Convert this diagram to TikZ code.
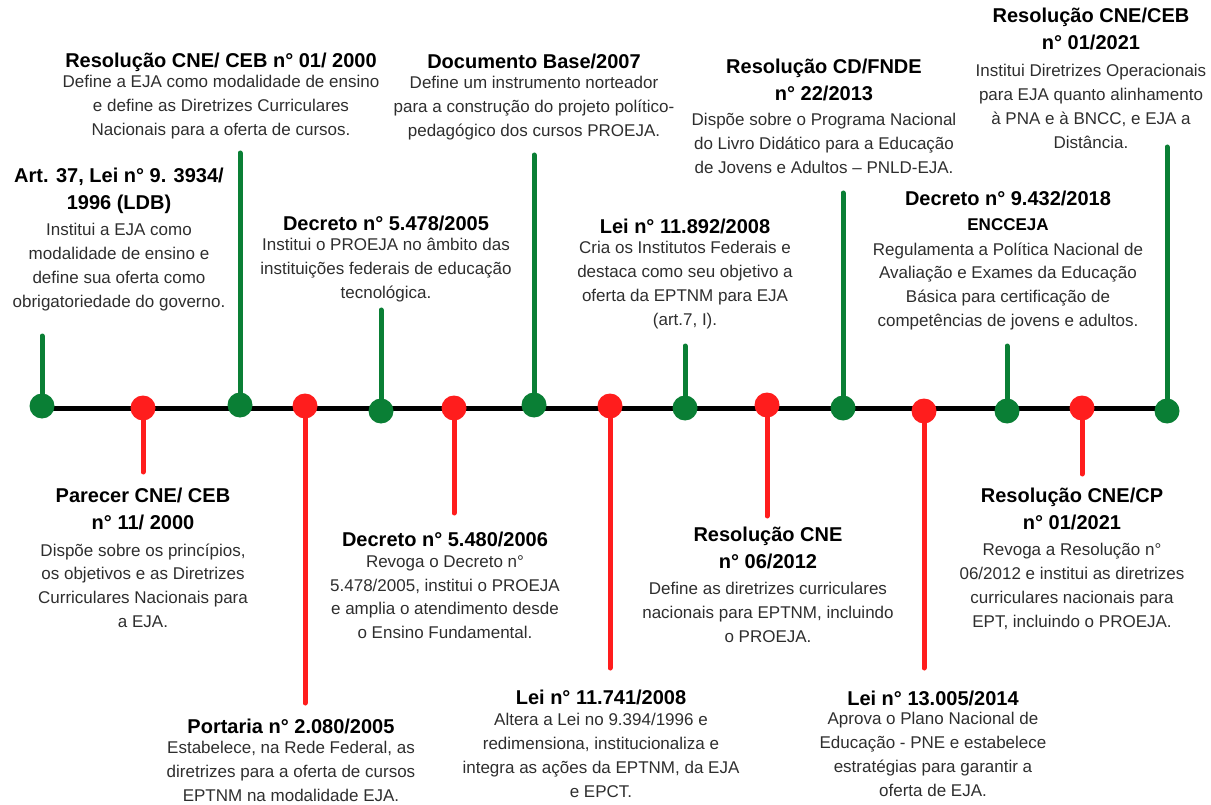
\documentclass[tikz,border=0pt]{standalone}
\usepackage{fontspec}
\setmainfont{Liberation Sans}
\definecolor{tlgreen}{HTML}{0A7F35}
\definecolor{tlred}{HTML}{FF1D1D}
\definecolor{bodygray}{HTML}{2E2E2E}
\begin{document}
\begin{tikzpicture}[x=1pt,y=-1pt,
  ttl/.style={align=center, inner sep=0pt, anchor=north, yshift=19.25pt,
    font=\fontsize{20}{27.5}\selectfont\bfseries, text=black, execute at begin node=\strut},
  bdy/.style={align=center, inner sep=0pt, anchor=north, yshift=16.59pt,
    font=\fontsize{17}{23.7}\selectfont, text=bodygray, execute at begin node=\strut},
  dotg/.style={circle, fill=tlgreen, minimum size=25pt, inner sep=0pt},
  dotr/.style={circle, fill=tlred, minimum size=25pt, inner sep=0pt},
  stemg/.style={draw=tlgreen, line width=5pt, line cap=round},
  stemr/.style={draw=tlred, line width=5pt, line cap=round},
  axis/.style={draw=black, line width=5pt}]
\useasboundingbox (0,0) rectangle (1211,805);

% dot positions
\coordinate (p1) at (42,406);
\coordinate (p2) at (143,408);
\coordinate (p3) at (240,405);
\coordinate (p4) at (305,406);
\coordinate (p5) at (381,411);
\coordinate (p6) at (454,408);
\coordinate (p7) at (534,405);
\coordinate (p8) at (610,406);
\coordinate (p9) at (685,408);
\coordinate (p10) at (767,405);
\coordinate (p11) at (843,408);
\coordinate (p12) at (924,411);
\coordinate (p13) at (1007,411);
\coordinate (p14) at (1082,408);
\coordinate (p15) at (1167,411);

% stem ends
\coordinate (s1) at (42,336);
\coordinate (s2) at (143,472);
\coordinate (s3) at (240,153);
\coordinate (s4) at (305,703);
\coordinate (s5) at (381,310);
\coordinate (s6) at (454,513);
\coordinate (s7) at (534,155);
\coordinate (s8) at (610,668);
\coordinate (s9) at (685,346);
\coordinate (s10) at (767,516);
\coordinate (s11) at (843,193);
\coordinate (s12) at (924,668);
\coordinate (s13) at (1007,346);
\coordinate (s14) at (1082,474);
\coordinate (s15) at (1167,147);

% axis
\coordinate (axL) at (42,408);
\coordinate (axR) at (1167,408);
\draw[axis] (axL) -- (axR);

% stems
\foreach \i in {1,3,5,7,9,11,13,15} {\draw[stemg] (p\i) -- (s\i);}
\foreach \i in {2,4,6,8,10,12,14} {\draw[stemr] (p\i) -- (s\i);}

% dots
\foreach \i in {1,3,5,7,9,11,13,15} {\node[dotg] (d\i) at (p\i) {};}
\foreach \i in {2,4,6,8,10,12,14} {\node[dotr] (d\i) at (p\i) {};}

% ---- top labels ----
\node[ttl] (tA) at (119,187) {Art. 37, Lei n° 9. 3934/\\1996 (LDB)};
\node[bdy] (bA) at (119,240) {Institui a EJA como\\modalidade de ensino e\\define sua oferta como\\obrigatoriedade do governo.};

\node[ttl] (tB) at (221,67.5) {Resolução CNE/ CEB n° 01/ 2000};
\node[bdy] (bB) at (221,92) {Define a EJA como modalidade de ensino\\e define as Diretrizes Curriculares\\Nacionais para a oferta de cursos.};

\node[ttl] (tC) at (386,230) {Decreto n° 5.478/2005};
\node[bdy] (bC) at (386,255) {Institui o PROEJA no âmbito das\\instituições federais de educação\\tecnológica.};

\node[ttl] (tD) at (534,68) {Documento Base/2007};
\node[bdy] (bD) at (534,93) {Define um instrumento norteador\\para a construção do projeto político-\\pedagógico dos cursos PROEJA.};

\node[ttl] (tE) at (685,233) {Lei n° 11.892/2008};
\node[bdy] (bE) at (685,258) {Cria os Institutos Federais e\\destaca como seu objetivo a\\oferta da EPTNM para EJA\\(art.7, I).};

\node[ttl] (tF) at (824,78) {Resolução CD/FNDE\\n° 22/2013};
\node[bdy] (bF) at (824,130) {Dispõe sobre o Programa Nacional\\do Livro Didático para a Educação\\de Jovens e Adultos – PNLD-EJA.};

\node[ttl] (tG) at (1008,210) {Decreto n° 9.432/2018\\[-2.5pt]{\fontsize{17}{20}\selectfont ENCCEJA}};
\node[bdy] (bG) at (1008,259) {Regulamenta a Política Nacional de\\Avaliação e Exames da Educação\\Básica para certificação de\\competências de jovens e adultos.};

\node[ttl] (tH) at (1091,27) {Resolução CNE/CEB\\n° 01/2021};
\node[bdy] (bH) at (1091,81) {Institui Diretrizes Operacionais\\para EJA quanto alinhamento\\à PNA e à BNCC, e EJA a\\Distância.};

% ---- bottom labels ----
\node[ttl] (tI) at (143,507) {Parecer CNE/ CEB\\n° 11/ 2000};
\node[bdy] (bI) at (143,560) {Dispõe sobre os princípios,\\os objetivos e as Diretrizes\\Curriculares Nacionais para\\a EJA.};

\node[ttl] (tJ) at (291,733) {Portaria n° 2.080/2005};
\node[bdy] (bJ) at (291,758) {Estabelece, na Rede Federal, as\\diretrizes para a oferta de cursos\\EPTNM na modalidade EJA.};

\node[ttl] (tK) at (445,546) {Decreto n° 5.480/2006};
\node[bdy] (bK) at (445,572) {Revoga o Decreto n°\\5.478/2005, institui o PROEJA\\e amplia o atendimento desde\\o Ensino Fundamental.};

\node[ttl] (tL) at (601,704) {Lei n° 11.741/2008};
\node[bdy] (bL) at (601,730) {Altera a Lei no 9.394/1996 e\\redimensiona, institucionaliza e\\integra as ações da EPTNM, da EJA\\e EPCT.};

\node[ttl] (tM) at (768,546) {Resolução CNE\\n° 06/2012};
\node[bdy] (bM) at (768,599) {Define as diretrizes curriculares\\nacionais para EPTNM, incluindo\\o PROEJA.};

\node[ttl] (tN) at (933,705) {Lei n° 13.005/2014};
\node[bdy] (bN) at (933,729) {Aprova o Plano Nacional de\\Educação - PNE e estabelece\\estratégias para garantir a\\oferta de EJA.};

\node[ttl] (tO) at (1072,507) {Resolução CNE/CP\\n° 01/2021};
\node[bdy] (bO) at (1072,560) {Revoga a Resolução n°\\06/2012 e institui as diretrizes\\curriculares nacionais para\\EPT, incluindo o PROEJA.};
\end{tikzpicture}
\end{document}
